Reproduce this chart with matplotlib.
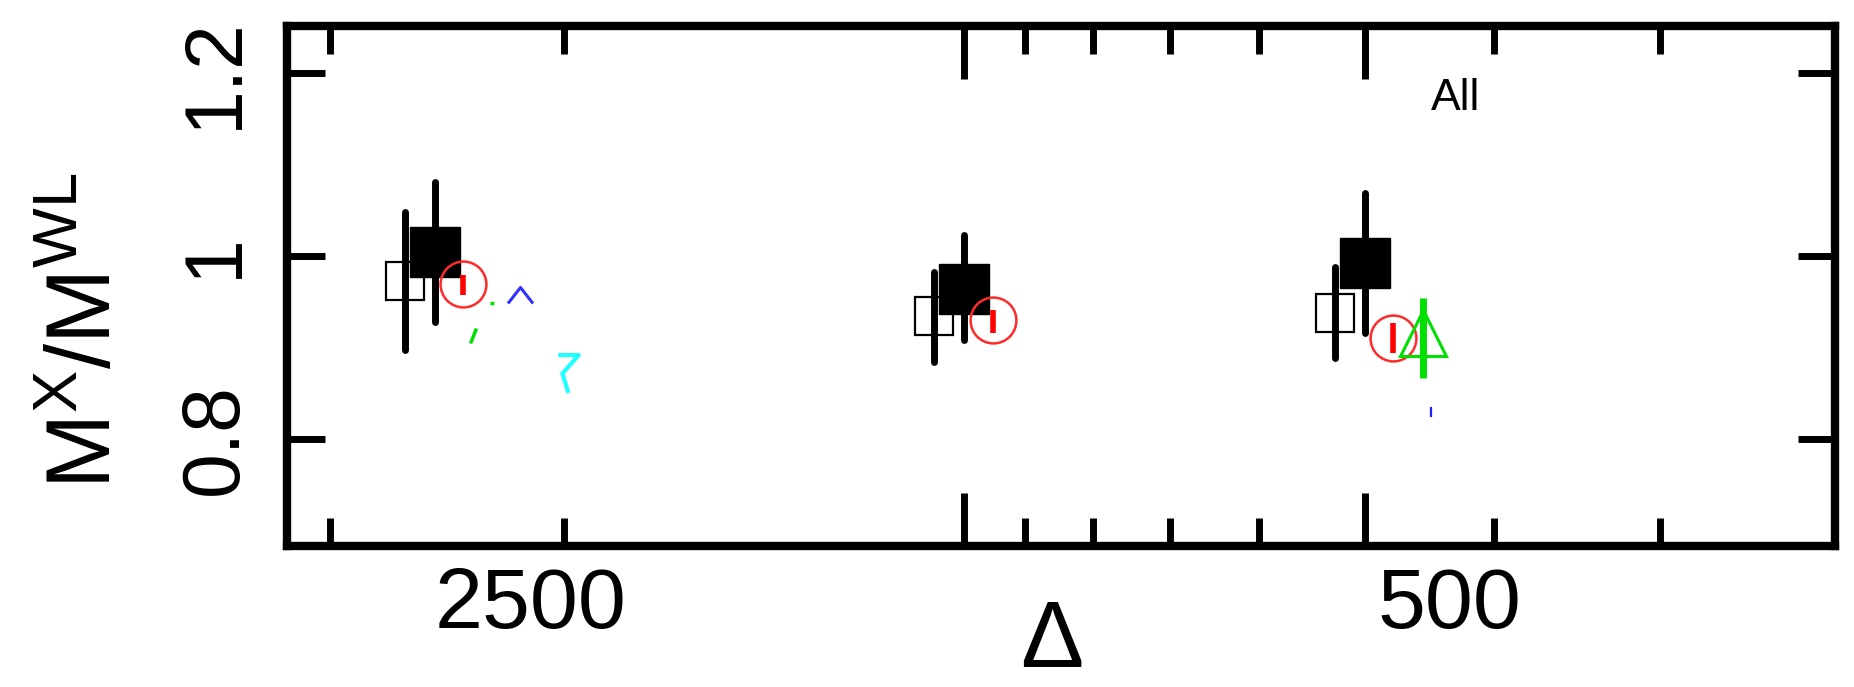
import numpy as np
import matplotlib
matplotlib.use("Agg")
import matplotlib.pyplot as plt
import matplotlib.transforms as mtransforms
from matplotlib.path import Path
from matplotlib.ticker import FixedLocator, NullFormatter, NullLocator

plt.rcParams['font.family'] = ['Liberation Sans', 'DejaVu Sans']
plt.rcParams['mathtext.fontset'] = 'custom'
plt.rcParams['mathtext.rm'] = 'Liberation Sans'
plt.rcParams['mathtext.it'] = 'Liberation Sans'

# overdensities and mass ratios
delta = np.array([2500, 1000, 500])

open_ratio = np.array([0.973, 0.934, 0.938])
open_lo    = np.array([0.897, 0.884, 0.889])
open_hi    = np.array([1.048, 0.983, 0.988])

filled_ratio = np.array([1.004, 0.964, 0.992])
filled_lo    = np.array([0.928, 0.908, 0.916])
filled_hi    = np.array([1.081, 1.023, 1.069])

circle_ratio = np.array([0.969, 0.930, 0.910])
circle_lo    = np.array([0.957, 0.916, 0.894])
circle_hi    = np.array([0.979, 0.941, 0.927])

tri_delta = np.array([452])
tri_ratio = np.array([0.916])
tri_lo    = np.array([0.867])
tri_hi    = np.array([0.954])

caret_delta = np.array([2157])
caret_ratio = np.array([0.957])
dot_delta = np.array([446])
dot_ratio = np.array([0.830])
cyan_delta = np.array([1985])
cyan_ratio = np.array([0.872])
frag_delta = np.array([2304])
frag_ratio = np.array([0.930])

xtick_major = [500, 1000]
xtick_minor = [300, 400, 600, 700, 800, 900, 2000, 3000]
xlabel_vals = [2500, 500]
ytick_vals = [0.8, 1.0, 1.2]
ytick_text = ['0.8', '1', '1.2']

# horizontal dodge so the samples don't sit on top of each other
OPEN_SHIFT, CIRC_SHIFT = 1.053, 0.952

fig = plt.figure(figsize=(18.54, 6.87), dpi=100)
ax = fig.add_axes([0.1548, 0.2052, 0.8350, 0.7570])
ax.set_xscale('log')
ax.set_xlim(3230, 221.5)
ax.set_ylim(0.683, 1.2514)

# open squares
ax.plot(delta * OPEN_SHIFT, open_ratio, 's', ms=27, mfc='white', mec='black', mew=1.6, zorder=2)
ax.vlines(delta * OPEN_SHIFT, open_lo, open_hi, color='black', lw=5, capstyle='round', zorder=3)
# filled squares
ax.plot(delta, filled_ratio, 's', ms=36, mfc='black', mec='black', zorder=4)
ax.vlines(delta, filled_lo, filled_hi, color='black', lw=5, capstyle='round', zorder=5)
# red circles
ax.plot(delta * CIRC_SHIFT, circle_ratio, 'o', ms=33, mfc='none', mec='#ff2a2a', mew=1.8, zorder=6)
ax.vlines(delta * CIRC_SHIFT, circle_lo, circle_hi, color='#ff0000', lw=4, zorder=7)
# green triangle
ax.plot(tri_delta, tri_ratio, '^', ms=33, mfc='none', mec='#00e000', mew=2.2, zorder=8)
ax.vlines(tri_delta, tri_lo, tri_hi, color='#00e000', lw=5, zorder=9)

# small partial symbols
caret = Path([(-1, -0.64), (0, 0.64), (1, -0.64)], [Path.MOVETO, Path.LINETO, Path.LINETO])
ax.plot(caret_delta, caret_ratio, ls='none', marker=caret, ms=18, mfc='none', mec='#3030ff', mew=2.2, zorder=8)
ax.plot(dot_delta, dot_ratio, ls='none', marker='|', ms=7, mec='#2020ff', mew=1.6, zorder=8)
zig = Path([(-10, 18), (10, 18), (-6, 0), (0, -19)],
           [Path.MOVETO, Path.LINETO, Path.LINETO, Path.LINETO])
ax.plot(cyan_delta, cyan_ratio, ls='none', marker=zig, ms=28, mfc='none', mec='#20ffff', mew=3, zorder=8)
frag = Path([(8, 17), (12, 17), (-12, -23), (-6, -8)],
            [Path.MOVETO, Path.LINETO, Path.MOVETO, Path.LINETO])
ax.plot(frag_delta, frag_ratio, ls='none', marker=frag, ms=33, mfc='none', mec='#00e000', mew=2.5, zorder=8)

# axes frame and ticks
for sp in ax.spines.values():
    sp.set_linewidth(6)
ax.xaxis.set_major_locator(FixedLocator(xtick_major))
ax.xaxis.set_minor_locator(FixedLocator(xtick_minor))
ax.xaxis.set_major_formatter(NullFormatter())
ax.xaxis.set_minor_formatter(NullFormatter())
ax.tick_params(axis='x', which='major', direction='in', length=38, width=5, top=True, bottom=True)
ax.tick_params(axis='x', which='minor', direction='in', length=20, width=5, top=True, bottom=True)
ax.yaxis.set_minor_locator(NullLocator())
ax.set_yticks(ytick_vals)
ax.set_yticklabels(ytick_text)
ax.tick_params(axis='y', direction='in', length=27, width=5, right=True, labelsize=58, pad=24, labelrotation=90)
for lbl in ax.get_yticklabels():
    lbl.set_va('center')

# x labels sit a little to the right of their ticks
label_shift = {2500: 0.96, 500: 0.85}
for v in xlabel_vals:
    tr = mtransforms.blended_transform_factory(ax.transData, fig.transFigure) + \
        mtransforms.ScaledTranslation(label_shift[v], 0, fig.dpi_scale_trans)
    ax.text(v, 0.0855, str(v), transform=tr, ha='center', va='baseline', fontsize=62, clip_on=False)

fig.text(0.5674, 0.0, '\u0394', ha='center', va='bottom', fontsize=68)
fig.text(0.047, 0.518, r'$\mathrm{M}^{\mathrm{X}}/\mathrm{M}^{\mathrm{WL}}$', rotation=90,
         ha='center', va='center', fontsize=65)
ax.text(0.755, 0.86, 'All', transform=ax.transAxes, ha='center', va='center', fontsize=32)

fig.savefig('out.png', dpi=100)
